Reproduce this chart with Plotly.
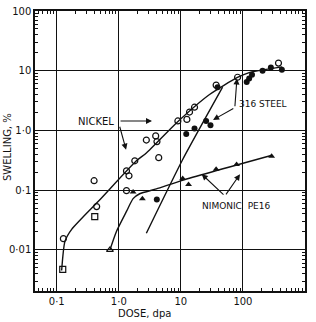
import math
import plotly.graph_objects as go

# ---- data (dose in dpa, swelling in %) ----
nickel_open_x = [0.128, 0.44, 0.40, 1.33, 1.46, 1.81, 1.33, 2.78, 3.93, 4.12, 4.4,
                 8.95, 12.5, 13.8, 16.6, 37, 82, 374]
nickel_open_y = [0.0154, 0.053, 0.144, 0.21, 0.174, 0.31, 0.098, 0.69, 0.81, 0.65, 0.35,
                 1.44, 1.53, 2.03, 2.45, 5.74, 7.77, 13.4]
nickel_sq_x = [0.125, 0.41]
nickel_sq_y = [0.0047, 0.036]

steel_x = [4.1, 12.2, 16.6, 25.5, 30, 39, 115, 126, 140, 207, 282, 424]
steel_y = [0.07, 0.87, 1.08, 1.44, 1.22, 5.3, 6.5, 7.4, 8.6, 10.0, 11.3, 10.4]

nim_x = [1.7, 2.4, 10.7, 13.3, 37, 79, 290]
nim_y = [0.093, 0.072, 0.157, 0.124, 0.224, 0.27, 0.37]
nim_open_x = [0.72]
nim_open_y = [0.01]

# fitted curves
nickel_curve_x = [0.12, 0.136, 0.174, 0.495, 1.92, 2.78, 8.9, 29, 81.5, 126, 430]
nickel_curve_y = [0.0045, 0.014, 0.022, 0.069, 0.31, 0.42, 1.4, 4.0, 7.7, 9.3, 11.6]
steel_curve_x = [2.78, 10.6, 47]
steel_curve_y = [0.019, 0.32, 5.3]
nim_curve_x = [0.72, 0.92, 1.33, 1.7, 2.17, 4.03, 10.6, 285]
nim_curve_y = [0.01, 0.0205, 0.044, 0.072, 0.087, 0.105, 0.146, 0.38]

x_tickvals = [0.1, 1, 10, 100, 1000]
x_ticktext = ["0·1", "1·0", "10", "100", "1000"]
y_tickvals = [0.01, 0.1, 1, 10, 100]
y_ticktext = ["0·01", "0·1", "1·0", "10", "100"]

FONT = "DejaVu Sans"
BLACK = "#111111"

fig = go.Figure()
line = dict(color=BLACK, width=1.4)
fig.add_trace(go.Scatter(x=nickel_curve_x, y=nickel_curve_y, mode="lines",
                         line=dict(shape="spline", smoothing=0.6, **line)))
fig.add_trace(go.Scatter(x=steel_curve_x, y=steel_curve_y, mode="lines",
                         line=dict(shape="spline", smoothing=0.5, **line)))
fig.add_trace(go.Scatter(x=nim_curve_x, y=nim_curve_y, mode="lines",
                         line=dict(shape="spline", smoothing=0.6, **line)))

fig.add_trace(go.Scatter(x=nickel_open_x, y=nickel_open_y, mode="markers",
                         marker=dict(symbol="circle-open", size=6, color=BLACK,
                                     line=dict(width=1.2, color=BLACK))))
fig.add_trace(go.Scatter(x=nickel_sq_x, y=nickel_sq_y, mode="markers",
                         marker=dict(symbol="square-open", size=6, color=BLACK,
                                     line=dict(width=1.2, color=BLACK))))
fig.add_trace(go.Scatter(x=steel_x, y=steel_y, mode="markers",
                         marker=dict(symbol="circle", size=6, color=BLACK)))
fig.add_trace(go.Scatter(x=nim_x, y=nim_y, mode="markers",
                         marker=dict(symbol="triangle-up", size=6, color=BLACK)))
fig.add_trace(go.Scatter(x=nim_open_x, y=nim_open_y, mode="markers",
                         marker=dict(symbol="triangle-up-open", size=6, color=BLACK,
                                     line=dict(width=1.2, color=BLACK))))

L = math.log10


def arrow(x_head, y_head, x_tail, y_tail):
    fig.add_annotation(x=L(x_head), y=L(y_head), ax=L(x_tail), ay=L(y_tail),
                       xref="x", yref="y", axref="x", ayref="y", text="",
                       showarrow=True, arrowhead=2, arrowsize=1.1, arrowwidth=1.1,
                       arrowcolor=BLACK, standoff=0, startstandoff=0)


def label(x, y, text, size=10):
    fig.add_annotation(x=L(x), y=L(y), xref="x", yref="y", text=text, showarrow=False,
                       xanchor="center", yanchor="middle",
                       font=dict(family=FONT, size=size, color=BLACK))


label(0.43, 1.41, "NICKEL", 10)
arrow(3.43, 1.44, 1.01, 1.44)
arrow(1.31, 0.475, 1.02, 1.22)

label(210, 2.77, "316 STEEL", 9)
arrow(80, 7.4, 74, 2.4)
arrow(33, 1.5, 74, 2.4)

label(77, 0.055, "NIMONIC  PE16", 9)
arrow(21.7, 0.185, 51.4, 0.08)
arrow(89.7, 0.185, 51.4, 0.08)

fig.add_annotation(x=0.407, y=-0.082, xref="paper", yref="paper", text="DOSE, dpa",
                   xanchor="center", yanchor="middle",
                   showarrow=False, font=dict(family=FONT, size=10, color=BLACK))
fig.add_annotation(x=-0.104, y=0.514, xref="paper", yref="paper", text="SWELLING, %",
                   xanchor="center", yanchor="middle",
                   textangle=-90, showarrow=False,
                   font=dict(family=FONT, size=10, color=BLACK))

axis_common = dict(type="log", showline=True, linecolor=BLACK, linewidth=1.5,
                   mirror="allticks", ticks="inside", ticklen=5, tickcolor=BLACK,
                   showgrid=True, gridcolor=BLACK, gridwidth=1.3, zeroline=False,
                   tickfont=dict(family=FONT, size=10, color=BLACK),
                   minor=dict(dtick="D1", ticks="inside", ticklen=3, tickcolor=BLACK,
                              showgrid=False))

fig.update_xaxes(range=[-1.35, 3.0], tickmode="array", tickvals=x_tickvals,
                 ticktext=x_ticktext, **axis_common)
fig.update_yaxes(range=[-2.689, 2.0], tickmode="array", tickvals=y_tickvals,
                 ticktext=y_ticktext, **axis_common)

fig.update_layout(width=316, height=322, showlegend=False,
                  margin=dict(l=35, r=11, t=5, b=31),
                  paper_bgcolor="white", plot_bgcolor="white",
                  font=dict(family=FONT, size=10, color=BLACK))

fig.write_html("out.html")
